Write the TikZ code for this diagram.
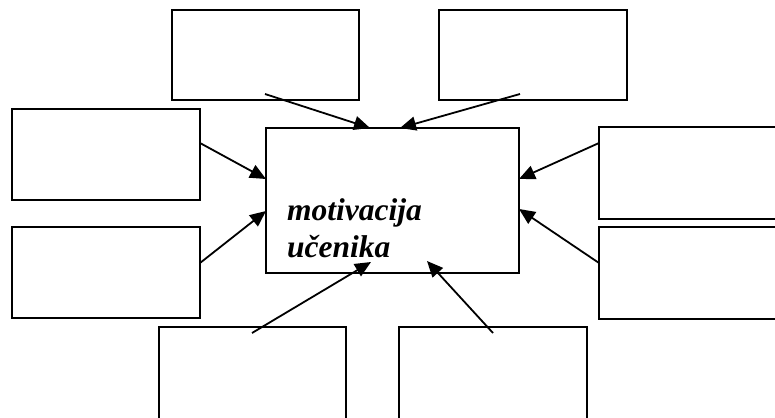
\documentclass[tikz,border=0pt]{standalone}
\usepackage{fontspec}
\setmainfont{Liberation Serif}
\usetikzlibrary{arrows.meta}
\begin{document}
\begin{tikzpicture}[x=1pt,y=-1pt,
  box/.style={draw=black,line width=2pt,fill=none},
  conn/.style={line width=1.8pt,-{Triangle[length=16pt,width=14pt]}},
  lbl/.style={font=\fontsize{31.5}{37}\selectfont\bfseries\itshape,align=left,anchor=base west,inner sep=0pt}]
\useasboundingbox (0,0) rectangle (775,417);
\clip (0,0) rectangle (775,417);
% boxes
\draw[box] (266,128) rectangle (519,273);
\draw[box] (172,10) rectangle (359,100);
\draw[box] (439,10) rectangle (627,100);
\draw[box] (12,109) rectangle (200,200);
\draw[box] (12,227) rectangle (200,318);
\draw[box] (599,127) rectangle (800,219);
\draw[box] (599,227) rectangle (800,319);
\draw[box] (159,327) rectangle (346,430);
\draw[box] (399,327) rectangle (587,430);
% connector endpoints
\coordinate (a1) at (265,94);  \coordinate (b1) at (370,128);
\coordinate (a2) at (520,94);  \coordinate (b2) at (400,128);
\coordinate (a3) at (200,143); \coordinate (b3) at (266,179);
\coordinate (a4) at (200,263); \coordinate (b4) at (266,211);
\coordinate (a5) at (599,143); \coordinate (b5) at (519,179);
\coordinate (a6) at (599,263); \coordinate (b6) at (519,209);
\coordinate (a7) at (252,333); \coordinate (b7) at (371,262);
\coordinate (a8) at (493,333); \coordinate (b8) at (427,261);
\foreach \i in {1,...,8} {\draw[conn] (a\i) -- (b\i);}
% label
\node[lbl] (t1) at (287,220) {motivacija};
\node[lbl] (t2) at (287,257) {učenika};
\end{tikzpicture}
\end{document}
